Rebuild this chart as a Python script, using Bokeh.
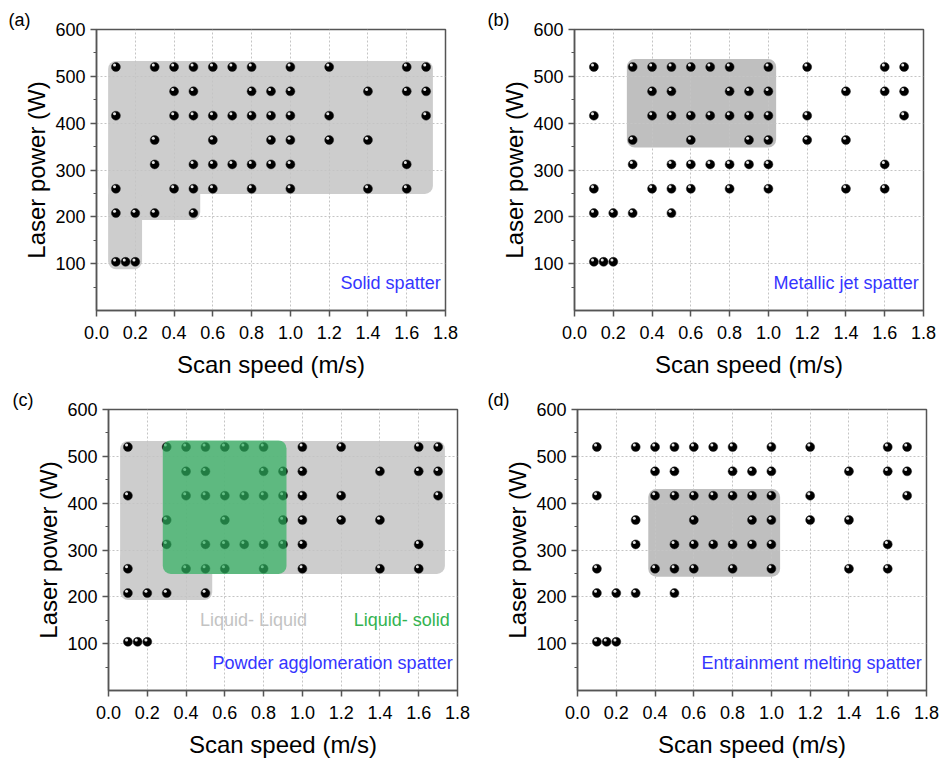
from bokeh.plotting import figure
from bokeh.models import FixedTicker, BoxAnnotation, Label, Range1d
from bokeh.layouts import column, row
from bokeh.embed import file_html
from bokeh.resources import INLINE

# ---------------- data ----------------
power_levels = [520, 468, 416, 364, 312, 260, 208, 104]
speeds_at_520 = [0.1, 0.3, 0.4, 0.5, 0.6, 0.7, 0.8, 1.0, 1.2, 1.6, 1.7]
speeds_at_468 = [0.4, 0.5, 0.8, 0.9, 1.0, 1.4, 1.6, 1.7]
speeds_at_416 = [0.1, 0.4, 0.5, 0.6, 0.7, 0.8, 0.9, 1.0, 1.2, 1.7]
speeds_at_364 = [0.3, 0.6, 0.9, 1.0, 1.2, 1.4]
speeds_at_312 = [0.3, 0.5, 0.6, 0.7, 0.8, 0.9, 1.0, 1.6]
speeds_at_260 = [0.1, 0.4, 0.5, 0.6, 0.8, 1.0, 1.4, 1.6]
speeds_at_208 = [0.1, 0.2, 0.3, 0.5]
speeds_at_104 = [0.1, 0.15, 0.2]

x_ticks = [0.0, 0.2, 0.4, 0.6, 0.8, 1.0, 1.2, 1.4, 1.6, 1.8]
x_tick_labels = ["0.0", "0.2", "0.4", "0.6", "0.8", "1.0", "1.2", "1.4", "1.6", "1.8"]
y_ticks = [100, 200, 300, 400, 500, 600]
y_minor_ticks = [50, 150, 250, 350, 450, 550]

# regions: (left speed, right speed, bottom power, top power)
regions_a = [(0.06, 1.735, 249, 533), (0.06, 0.535, 193, 300), (0.06, 0.235, 88, 260)]
regions_b = [(0.27, 1.04, 348, 537)]
regions_c = [(0.06, 1.735, 249, 533), (0.06, 0.535, 193, 300)]
regions_c_green = [(0.28, 0.918, 249, 534)]
regions_d = [(0.365, 1.045, 243, 430)]

panel_tags = ["(a)", "(b)", "(c)", "(d)"]
panel_titles = ["Solid spatter", "Metallic jet spatter",
                "Powder agglomeration spatter", "Entrainment melting spatter"]
c_phase_labels = ["Liquid- Liquid", "Liquid- solid"]

FONT = "Liberation Sans"

rows = [speeds_at_520, speeds_at_468, speeds_at_416, speeds_at_364,
        speeds_at_312, speeds_at_260, speeds_at_208, speeds_at_104]
xs, ys = [], []
for pw, sp in zip(power_levels, rows):
    xs += sp
    ys += [pw] * len(sp)


def make_panel(tag, title, w, h, bl, br, bt, bb, regions, gray, tag_dx):
    p = figure(width=w, height=h, x_range=Range1d(0, 1.8), y_range=Range1d(0, 600),
               output_backend="svg", toolbar_location=None,
               min_border_left=bl, min_border_right=br,
               min_border_top=bt, min_border_bottom=bb)
    p.outline_line_color = "#555555"
    p.outline_line_width = 1.5
    p.background_fill_color = "white"
    p.border_fill_color = "white"

    p.title.text = tag
    p.title.align = "left"
    p.title.offset = tag_dx
    p.title.standoff = 0
    p.title.text_font = FONT
    p.title.text_font_size = "18px"
    p.title.text_font_style = "normal"
    p.title.text_color = "black"

    for (l, r, b, t) in regions:
        box = BoxAnnotation(left=l, right=r, bottom=b, top=t, fill_color=gray,
                            fill_alpha=1.0, line_color=None, border_radius=8,
                            level="image")
        p.add_layout(box)

    p.scatter(xs, ys, size=9, fill_color="black", line_color="#222222", line_width=0.5)
    p.scatter([x - 0.007 for x in xs], [y + 4 for y in ys], size=3,
              fill_color="white", line_color=None, fill_alpha=0.9)

    p.xaxis.ticker = FixedTicker(ticks=x_ticks)
    p.xaxis.major_label_overrides = {t: lab for t, lab in zip(x_ticks, x_tick_labels)}
    p.yaxis.ticker = FixedTicker(ticks=y_ticks, minor_ticks=y_minor_ticks)

    for ax in (p.xaxis[0], p.yaxis[0]):
        ax.axis_line_color = "#555555"
        ax.axis_line_width = 1.5
        ax.major_tick_line_color = "#555555"
        ax.major_tick_line_width = 1.5
        ax.major_tick_out = 6
        ax.major_tick_in = 0
        ax.minor_tick_line_color = "#555555"
        ax.minor_tick_line_width = 1.2
        ax.minor_tick_out = 3
        ax.minor_tick_in = 0
        ax.major_label_text_font = FONT
        ax.major_label_text_font_size = "18px"
        ax.major_label_text_color = "black"
        ax.axis_label_text_font = FONT
        ax.axis_label_text_font_size = "24px"
        ax.axis_label_text_font_style = "normal"
        ax.axis_label_text_color = "black"
    p.xaxis.axis_label = "Scan speed (m/s)"
    p.yaxis.axis_label = "Laser power (W)"
    p.xaxis.major_label_standoff = 9
    p.yaxis.major_label_standoff = 5
    p.xaxis.axis_label_standoff = 9
    p.yaxis.axis_label_standoff = 2
    p.xaxis.minor_tick_line_color = None

    for g in (p.xgrid[0], p.ygrid[0]):
        g.grid_line_color = "#c4c4c4"
        g.grid_line_dash = "2 2"
        g.grid_line_width = 1

    p.add_layout(Label(x=1.775, y=58, text=title, text_align="right",
                       text_baseline="middle", text_font=FONT,
                       text_font_size="18px", text_color="#3535ff"))
    return p


pa = make_panel(panel_tags[0], panel_titles[0], 470, 380, 96, 25, 29, 67,
                regions_a, "#cdcdcd", -88)
pb = make_panel(panel_tags[1], panel_titles[1], 471, 380, 104, 18, 26, 69,
                regions_b, "#bfbfbf", -87)
pc = make_panel(panel_tags[2], panel_titles[2], 470, 380, 108, 13, 28, 67,
                regions_c, "#cdcdcd", -96)
pd = make_panel(panel_tags[3], panel_titles[3], 471, 380, 107, 15, 29, 66,
                regions_d, "#bfbfbf", -90)

for (l, r, b, t) in regions_c_green:
    pc.add_layout(BoxAnnotation(left=l, right=r, bottom=b, top=t, fill_color="#2fb060",
                                fill_alpha=0.7, line_color=None, border_radius=8))

pc.add_layout(Label(x=0.748, y=150, text=c_phase_labels[0], text_align="center",
                    text_baseline="middle", text_font=FONT, text_font_size="18px",
                    text_color="#c3c3c3"))
pc.add_layout(Label(x=1.76, y=150, text=c_phase_labels[1], text_align="right",
                    text_baseline="middle", text_font=FONT, text_font_size="18px",
                    text_color="#33b350"))

layout = column(row(pa, pb), row(pc, pd))

open("out.html", "w").write(file_html(layout, INLINE))
